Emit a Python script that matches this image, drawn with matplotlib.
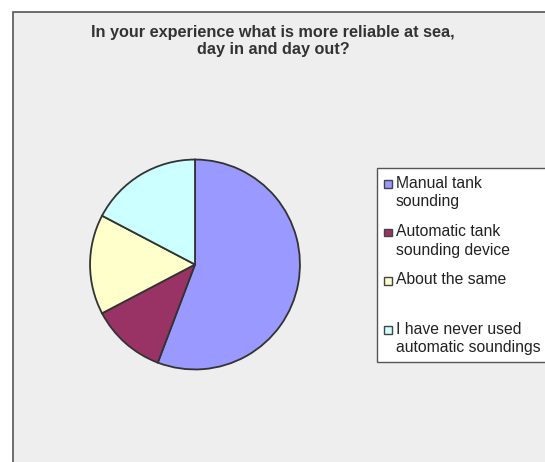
import matplotlib.pyplot as plt
from matplotlib.patches import Rectangle

W, H = 545, 462

labels = ["Manual tank\nsounding", "Automatic tank\nsounding device",
          "About the same", "I have never used\nautomatic soundings"]
counts = [29, 6, 8, 9]
colors = ["#9999FF", "#993366", "#FFFFCC", "#CCFFFF"]
title = "In your experience what is more reliable at sea,\nday in and day out?"

plt.rcParams['font.family'] = ['Liberation Sans', 'DejaVu Sans']

fig = plt.figure(figsize=(W / 100, H / 100), dpi=100)
fig.patch.set_facecolor("white")


def px(x, y):
    # pixel position (from top-left) -> figure fraction
    return x / W, 1 - y / H


# chart area: gray panel, clipped on the right and bottom
x0, y0 = px(13, 12)
fig.patches.append(Rectangle((x0, -0.01), 1.02 - x0, y0 + 0.01,
                             transform=fig.transFigure, facecolor="#eeeeee",
                             edgecolor="#555555", linewidth=1.2, zorder=-5))

tx, ty = px(273, 25)
fig.text(tx, ty, title, ha="center", va="top", fontsize=11.7, fontweight="bold",
         color="#333333", linespacing=1.2)

# pie
cx, cy, r = 195, 264.5, 106
ax = fig.add_axes([(cx - r) / W, 1 - (cy + r) / H, 2 * r / W, 2 * r / H])
ax.pie(counts, colors=colors, startangle=90, counterclock=False, radius=1,
       wedgeprops=dict(edgecolor="#333333", linewidth=1.3))
ax.set_xlim(-1.01, 1.01)
ax.set_ylim(-1.01, 1.01)
ax.set_aspect("equal")
ax.axis("off")

# legend box
lx, ly = px(377, 362)
fig.patches.append(Rectangle((lx, ly), 1.02 - lx, (362 - 168) / H,
                             transform=fig.transFigure, facecolor="white",
                             edgecolor="#555555", linewidth=1.0, zorder=-4))
rows = [183.5, 232.5, 280.5, 329.5]
for lab, col, yr in zip(labels, colors, rows):
    sx, sy = px(384, yr + 4)
    fig.patches.append(Rectangle((sx, sy), 8 / W, 8 / H, transform=fig.transFigure,
                                 facecolor=col, edgecolor="#444444", linewidth=1.0))
    tx, ty = px(396, yr - 8)
    fig.text(tx, ty, lab, ha="left", va="top", fontsize=11.3, color="#222222",
             linespacing=1.3)

fig.savefig("out.png", dpi=100)
